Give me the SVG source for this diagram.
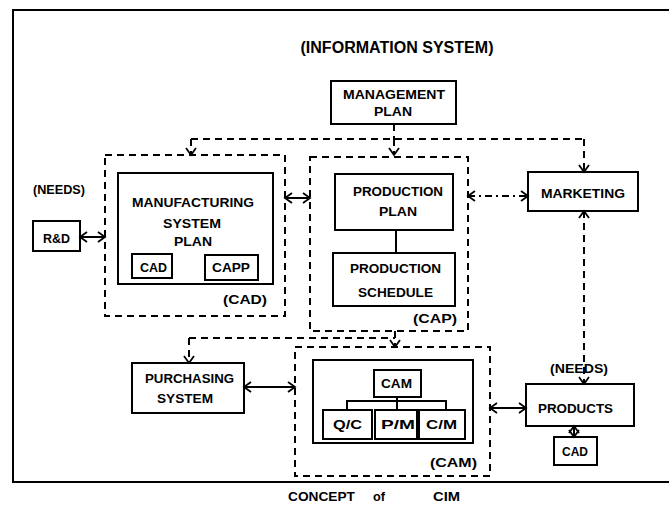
<svg xmlns="http://www.w3.org/2000/svg" width="669" height="505" viewBox="0 0 669 505">
<defs>
<marker id="ah" markerUnits="userSpaceOnUse" markerWidth="12" markerHeight="12" viewBox="-1 -6 9 12" refX="7" refY="0" orient="auto-start-reverse">
<path d="M0,-5 L7,0 L0,5" fill="none" stroke="#000" stroke-width="1.8"/>
</marker>
<style>
.frame{fill:none;stroke:#000;stroke-width:2}
.box{fill:#fff;stroke:#000;stroke-width:2}
.dbox{fill:none;stroke:#000;stroke-width:2;stroke-dasharray:7 5}
.dl{fill:none;stroke:#000;stroke-width:2;stroke-dasharray:7 5}
.dd{fill:none;stroke:#000;stroke-width:2;stroke-dasharray:7 4 2 4}
.sl{fill:none;stroke:#000;stroke-width:2}
.arr{marker-end:url(#ah)}
.arr2{marker-start:url(#ah);marker-end:url(#ah)}
text{font-family:"Liberation Sans","DejaVu Sans",Arial,sans-serif;font-weight:bold;font-size:13.5px;fill:#000;text-anchor:middle}
.t{font-size:16px}
</style>
</defs>

<g id="frame">
<path class="frame" d="M669,10 L13,10 L13,482 L669,482"/>
</g>

<text class="t" x="397" y="53" textLength="193" lengthAdjust="spacingAndGlyphs">(INFORMATION  SYSTEM)</text>

<g id="management-plan">
<rect class="box" x="331" y="81" width="125" height="43"/>
<text x="394" y="99" textLength="102" lengthAdjust="spacingAndGlyphs">MANAGEMENT</text>
<text x="393" y="116" textLength="38" lengthAdjust="spacingAndGlyphs">PLAN</text>
</g>

<g id="cad-group">
<rect class="dbox" x="105" y="155" width="180" height="161"/>
<text x="245" y="304" textLength="44" lengthAdjust="spacingAndGlyphs">(CAD)</text>
</g>

<g id="manufacturing-system-plan">
<rect class="box" x="118" y="173" width="155" height="111"/>
<text x="193" y="207" textLength="122" lengthAdjust="spacingAndGlyphs">MANUFACTURING</text>
<text x="192" y="228" textLength="58" lengthAdjust="spacingAndGlyphs">SYSTEM</text>
<text x="193" y="246" textLength="38" lengthAdjust="spacingAndGlyphs">PLAN</text>
</g>

<g id="cad-inner">
<rect class="box" x="132" y="254" width="40" height="24"/>
<text x="153.5" y="272" textLength="27" lengthAdjust="spacingAndGlyphs">CAD</text>
</g>

<g id="capp">
<rect class="box" x="205" y="255" width="53" height="25"/>
<text x="231" y="272" textLength="38" lengthAdjust="spacingAndGlyphs">CAPP</text>
</g>

<g id="needs-left">
<text x="59" y="194" textLength="52" lengthAdjust="spacingAndGlyphs">(NEEDS)</text>
</g>

<g id="rd">
<rect class="box" x="33" y="221" width="47" height="30"/>
<text x="56.5" y="243" textLength="27" lengthAdjust="spacingAndGlyphs">R&amp;D</text>
</g>

<g id="cap-group">
<rect class="dbox" x="310" y="157" width="158" height="174"/>
<text x="435" y="323" textLength="44" lengthAdjust="spacingAndGlyphs">(CAP)</text>
</g>

<g id="production-plan">
<rect class="box" x="335" y="174" width="118" height="56"/>
<text x="398" y="196" textLength="90" lengthAdjust="spacingAndGlyphs">PRODUCTION</text>
<text x="398" y="216" textLength="38" lengthAdjust="spacingAndGlyphs">PLAN</text>
</g>

<g id="production-schedule">
<rect class="box" x="333" y="253" width="122" height="53"/>
<text x="395.5" y="273" textLength="91" lengthAdjust="spacingAndGlyphs">PRODUCTION</text>
<text x="395.5" y="297" textLength="75" lengthAdjust="spacingAndGlyphs">SCHEDULE</text>
</g>

<g id="marketing">
<rect class="box" x="528" y="172" width="110" height="39"/>
<text x="583" y="198" textLength="84" lengthAdjust="spacingAndGlyphs">MARKETING</text>
</g>

<g id="purchasing-system">
<rect class="box" x="132" y="363" width="112" height="50"/>
<text x="189.5" y="383" textLength="89" lengthAdjust="spacingAndGlyphs">PURCHASING</text>
<text x="185" y="403" textLength="56" lengthAdjust="spacingAndGlyphs">SYSTEM</text>
</g>

<g id="cam-group">
<rect class="dbox" x="295" y="347" width="195" height="129"/>
<text x="453.5" y="467" textLength="47" lengthAdjust="spacingAndGlyphs">(CAM)</text>
</g>

<g id="cam-inner">
<rect class="box" x="313" y="360" width="160" height="83"/>
</g>

<g id="cam">
<rect class="box" x="374" y="370" width="47" height="27"/>
<text x="396.5" y="388" textLength="31" lengthAdjust="spacingAndGlyphs">CAM</text>
</g>

<g id="qc">
<rect class="box" x="323" y="410" width="49" height="29"/>
<text x="347.5" y="429" textLength="29" lengthAdjust="spacingAndGlyphs">Q/C</text>
</g>

<g id="pm">
<rect class="box" x="375" y="410" width="42" height="29"/>
<text x="398" y="429" textLength="34" lengthAdjust="spacingAndGlyphs">P/M</text>
</g>

<g id="cm">
<rect class="box" x="419" y="410" width="46" height="29"/>
<text x="441.5" y="429" textLength="31" lengthAdjust="spacingAndGlyphs">C/M</text>
</g>

<g id="needs-right">
<text x="579" y="373" textLength="58" lengthAdjust="spacingAndGlyphs">(NEEDS)</text>
</g>

<g id="products">
<rect class="box" x="526" y="384" width="108" height="42"/>
<text x="575.5" y="413" textLength="75" lengthAdjust="spacingAndGlyphs">PRODUCTS</text>
</g>

<g id="cad-bottom">
<rect class="box" x="554" y="437" width="43" height="28"/>
<text x="575" y="456" textLength="26" lengthAdjust="spacingAndGlyphs">CAD</text>
</g>

<g id="connectors">
<path class="dl" d="M394,124 L394,139"/>
<path class="dl arr" d="M394,139 L394,155"/>
<path class="dl" d="M191,139 L584,139"/>
<path class="dl arr" d="M191,139 L191,155"/>
<path class="dl arr" d="M584,139 L584,172"/>
<path class="sl arr2" d="M80,237 L105,237"/>
<path class="sl arr2" d="M285,198 L310,198"/>
<path class="sl" d="M396,230 L396,253"/>
<path class="dd arr2" d="M468,196 L528,196"/>
<path class="dl arr2" d="M584,211 L584,384"/>
<path class="dl arr" d="M395,331 L395,347"/>
<path class="dl" d="M189,338 L395,338"/>
<path class="dl arr" d="M189,338 L189,363"/>
<path class="sl arr2" d="M244,387 L295,387"/>
<path class="sl arr2" d="M490,408 L526,408"/>
<path class="sl arr2" d="M574,426 L574,437"/>
<path class="sl" d="M397,397 L397,410 M347,410 L347,401 L446,401 L446,410"/>
</g>

<g id="caption">
<text x="321.5" y="501" textLength="67" lengthAdjust="spacingAndGlyphs">CONCEPT</text>
<text x="379" y="501" font-size="13" textLength="12" lengthAdjust="spacingAndGlyphs">of</text>
<text x="446.5" y="501" textLength="27" lengthAdjust="spacingAndGlyphs">CIM</text>
</g>
</svg>
